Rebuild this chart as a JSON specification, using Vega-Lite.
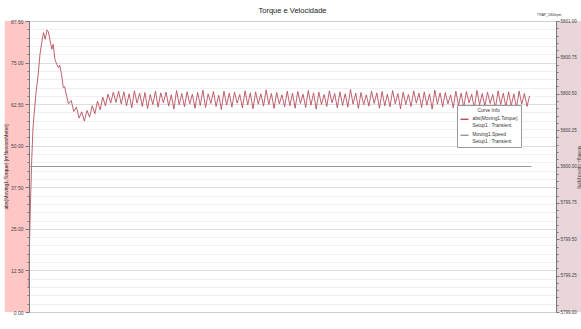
{
  "$schema": "https://vega.github.io/schema/vega-lite/v6.json",
  "width": 527,
  "height": 291,
  "autosize": {"type": "none"},
  "padding": {"left": 29, "top": 21, "right": 25, "bottom": 17},
  "background": "white",
  "title": {"text": "Torque e Velocidade", "fontSize": 7.5, "fontWeight": "normal", "font": "Liberation Sans", "color": "#222", "offset": -1, "anchor": "middle", "frame": "group"},
  "config": {"view": {"stroke": "#b0b0b0"}, "font": "Liberation Sans"},
  "datasets": {
    "torque": [
      {"t":0,"v":7.5},{"t":0.01,"v":20},{"t":0.03,"v":31},{"t":0.06,"v":45},{"t":0.09,"v":55},{"t":0.12,"v":60},{"t":0.16,"v":66},{"t":0.21,"v":71.5},{"t":0.25,"v":77.5},{"t":0.29,"v":81},{"t":0.33,"v":84},{"t":0.37,"v":82},{"t":0.41,"v":84.8},{"t":0.44,"v":84.3},{"t":0.48,"v":81.5},{"t":0.52,"v":79},{"t":0.55,"v":80.5},{"t":0.59,"v":76},{"t":0.63,"v":74.5},{"t":0.67,"v":73.5},{"t":0.7,"v":74.2},{"t":0.74,"v":71.5},{"t":0.78,"v":67.5},{"t":0.81,"v":67.8},{"t":0.86,"v":64.7},
      {"t":0.9,"v":62.6},{"t":0.96,"v":63.6},{"t":1.02,"v":60.3},{"t":1.08,"v":61.6},{"t":1.14,"v":58.3},{"t":1.2,"v":60.2},{"t":1.26,"v":57.4},{"t":1.32,"v":60.6},{"t":1.38,"v":58.6},{"t":1.44,"v":62.0},{"t":1.5,"v":59.6},{"t":1.56,"v":63.4},{"t":1.62,"v":60.8},{"t":1.68,"v":64.6},{"t":1.74,"v":62.0},{"t":1.8,"v":65.5},{"t":1.86,"v":62.8},{"t":1.92,"v":66.1},{"t":1.98,"v":63.0},{"t":2.04,"v":66.4},
      {"t":2.1,"v":62.6},{"t":2.16,"v":66.2},{"t":2.22,"v":62.0},{"t":2.28,"v":65.6},{"t":2.34,"v":61.4},{"t":2.4,"v":66.5},{"t":2.46,"v":62.8},{"t":2.52,"v":65.8},{"t":2.58,"v":61.8},{"t":2.64,"v":66.0},{"t":2.7,"v":61.2},{"t":2.76,"v":65.4},{"t":2.82,"v":62.4},{"t":2.88,"v":66.4},{"t":2.94,"v":61.6},{"t":3.0,"v":65.9},{"t":3.06,"v":62.9},{"t":3.12,"v":66.1},{"t":3.18,"v":61.9},{"t":3.24,"v":65.3},{"t":3.3,"v":61.0},{"t":3.36,"v":66.6},{"t":3.42,"v":62.3},{"t":3.48,"v":65.7},{"t":3.54,"v":61.7},{"t":3.6,"v":66.2},{"t":3.66,"v":62.6},{"t":3.72,"v":65.5},{"t":3.78,"v":61.3},{"t":3.84,"v":66.0},{"t":3.9,"v":62.1},{"t":3.96,"v":66.7},
      {"t":4.02,"v":61.5},{"t":4.08,"v":65.6},{"t":4.14,"v":62.7},{"t":4.2,"v":66.3},{"t":4.26,"v":61.8},{"t":4.32,"v":65.2},{"t":4.38,"v":60.9},{"t":4.44,"v":66.4},{"t":4.5,"v":62.2},{"t":4.56,"v":65.8},{"t":4.62,"v":61.6},{"t":4.68,"v":66.1},{"t":4.74,"v":62.8},{"t":4.8,"v":65.4},{"t":4.86,"v":61.4},{"t":4.92,"v":66.5},{"t":4.98,"v":62.3},{"t":5.04,"v":65.9},{"t":5.1,"v":61.1},{"t":5.16,"v":66.2},{"t":5.22,"v":62.5},{"t":5.28,"v":65.6},{"t":5.34,"v":61.9},{"t":5.4,"v":66.8},{"t":5.46,"v":62.4},{"t":5.52,"v":65.7},{"t":5.58,"v":61.2},{"t":5.64,"v":66.0},{"t":5.7,"v":62.6},{"t":5.76,"v":65.3},{"t":5.82,"v":61.7},{"t":5.88,"v":66.4},{"t":5.94,"v":62.0},{"t":6.0,"v":65.8},
      {"t":6.06,"v":61.3},{"t":6.12,"v":66.3},{"t":6.18,"v":62.7},{"t":6.24,"v":65.5},{"t":6.3,"v":61.5},{"t":6.36,"v":66.6},{"t":6.42,"v":62.2},{"t":6.48,"v":65.9},{"t":6.54,"v":61.0},{"t":6.6,"v":66.1},{"t":6.66,"v":62.4},{"t":6.72,"v":65.4},{"t":6.78,"v":61.8},{"t":6.84,"v":66.5},{"t":6.9,"v":62.9},{"t":6.96,"v":65.7},{"t":7.02,"v":61.4},{"t":7.08,"v":66.2},{"t":7.14,"v":62.1},{"t":7.2,"v":65.6},{"t":7.26,"v":61.6},{"t":7.32,"v":66.9},{"t":7.38,"v":62.5},{"t":7.44,"v":65.8},{"t":7.5,"v":61.2},{"t":7.56,"v":66.0},{"t":7.62,"v":62.3},{"t":7.68,"v":65.3},{"t":7.74,"v":61.9},{"t":7.8,"v":66.4},{"t":7.86,"v":62.7},{"t":7.92,"v":65.9},{"t":7.98,"v":61.3},
      {"t":8.04,"v":66.3},{"t":8.1,"v":62.0},{"t":8.16,"v":65.5},{"t":8.22,"v":61.7},{"t":8.28,"v":66.6},{"t":8.34,"v":62.6},{"t":8.4,"v":65.7},{"t":8.46,"v":61.1},{"t":8.52,"v":66.1},{"t":8.58,"v":62.4},{"t":8.64,"v":65.4},{"t":8.7,"v":61.8},{"t":8.76,"v":66.5},{"t":8.82,"v":62.8},{"t":8.88,"v":65.8},{"t":8.94,"v":61.5},{"t":9.0,"v":66.2},{"t":9.06,"v":62.2},{"t":9.12,"v":65.6},{"t":9.18,"v":61.0},{"t":9.24,"v":66.7},{"t":9.3,"v":62.5},{"t":9.36,"v":65.9},{"t":9.42,"v":61.7},{"t":9.48,"v":66.0},{"t":9.54,"v":62.6},{"t":9.6,"v":65.3},{"t":9.66,"v":61.4},{"t":9.72,"v":66.4},{"t":9.78,"v":62.1},{"t":9.84,"v":65.8},{"t":9.9,"v":61.6},{"t":9.96,"v":66.3},
      {"t":10.02,"v":62.9},{"t":10.08,"v":65.5},{"t":10.14,"v":61.3},{"t":10.2,"v":66.6},{"t":10.26,"v":62.3},{"t":10.32,"v":65.7},{"t":10.38,"v":61.9},{"t":10.44,"v":66.1},{"t":10.5,"v":62.7},{"t":10.56,"v":65.4},{"t":10.62,"v":61.2},{"t":10.68,"v":66.5},{"t":10.74,"v":62.4},{"t":10.8,"v":65.8},{"t":10.86,"v":61.6},{"t":10.92,"v":66.2},{"t":10.98,"v":62.0},{"t":11.04,"v":65.6},{"t":11.1,"v":61.4},{"t":11.16,"v":66.4},{"t":11.22,"v":62.5},{"t":11.28,"v":65.7},{"t":11.34,"v":61.8},{"t":11.4,"v":65.0}
    ],
    "speed": [{"t":0,"s":5800},{"t":11.44,"s":5800}],
    "one": [{}]
  },
  "layer": [
    {
      "data": {"name": "one"},
      "mark": {"type": "rect", "color": "#ffc6c6", "clip": false},
      "encoding": {
        "x": {"datum": -0.55, "type": "quantitative", "scale": {"domain": [0, 12], "nice": false}, "axis": null},
        "x2": {"datum": 0},
        "y": {"datum": 0, "type": "quantitative", "scale": {"domain": [0, 87.5], "nice": false, "zero": false},
          "axis": {"orient": "left", "offset": 0, "zindex": 0, "values": [0,2.5,5,7.5,10,12.5,15,17.5,20,22.5,25,27.5,30,32.5,35,37.5,40,42.5,45,47.5,50,52.5,55,57.5,60,62.5,65,67.5,70,72.5,75,77.5,80,82.5,85,87.5],
            "grid": true, "gridColor": {"condition": {"test": "datum.value % 12.5 === 0", "value": "#d6d6d6"}, "value": "#ececec"}, "gridWidth": 0.8,
            "labels": false, "ticks": false, "domain": false, "title": null}},
        "y2": {"datum": 87.5}
      }
    },
    {
      "data": {"name": "one"},
      "mark": {"type": "rect", "color": "#e8d6db", "clip": false},
      "encoding": {
        "x": {"datum": 12, "type": "quantitative", "scale": {"domain": [0, 12], "nice": false}, "axis": null},
        "x2": {"datum": 12.6},
        "y": {"datum": 0, "type": "quantitative", "scale": {"domain": [0, 87.5], "nice": false, "zero": false}, "axis": null},
        "y2": {"datum": 87.5}
      }
    },
    {
      "data": {"name": "torque"},
      "mark": {"type": "line", "strokeWidth": 0.9, "interpolate": "linear"},
      "encoding": {
        "x": {"field": "t", "type": "quantitative", "scale": {"domain": [0, 12], "nice": false, "zero": false},
          "axis": {"values": [0,0.4,0.8,1.2,1.6,2,2.4,2.8,3.2,3.6,4,4.4,4.8,5.2,5.6,6,6.4,6.8,7.2,7.6,8,8.4,8.8,9.2,9.6,10,10.4,10.8,11.2,11.6,12],
            "labelExpr": "abs(datum.value/2 - round(datum.value/2)) < 0.001 ? format(datum.value, '.2f') : ''",
            "labelOverlap": false, "labelFlush": false, "labelFontSize": 5, "labelColor": "#444", "labelPadding": 2,
            "tickSize": 3, "tickColor": "#777", "domainColor": "#777", "grid": true, "gridColor": "#e4e4e4", "gridWidth": 0.8,
            "title": "Time [ms]", "titleFontSize": 5, "titleFontWeight": "normal", "titleColor": "#333", "titlePadding": 1, "zindex": 0}},
        "y": {"field": "v", "type": "quantitative", "scale": {"domain": [0, 87.5], "nice": false, "zero": false},
          "axis": {"orient": "left", "offset": 0, "zindex": 1, "grid": false,
            "values": [0,2.5,5,7.5,10,12.5,15,17.5,20,22.5,25,27.5,30,32.5,35,37.5,40,42.5,45,47.5,50,52.5,55,57.5,60,62.5,65,67.5,70,72.5,75,77.5,80,82.5,85,87.5],
            "labelExpr": "datum.value % 12.5 === 0 ? format(datum.value, '.2f') : ''",
            "labelOverlap": false, "labelFontSize": 5, "labelColor": "#444", "labelPadding": 2,
            "tickSize": {"condition": {"test": "datum.value % 12.5 === 0", "value": 4}, "value": 2}, "tickColor": "#777", "domainColor": "#777",
            "title": "abs(Moving1.Torque) [mNewtonMeter]", "titleFontSize": 5, "titleFontWeight": "normal", "titleColor": "#333", "titlePadding": 2}},
        "color": {"datum": "abs(Moving1.Torque)", "type": "nominal",
          "scale": {"domain": ["abs(Moving1.Torque)", "Moving1.Speed"], "range": ["#b8505f", "#9a9a9a"]},
          "legend": {"title": "Curve Info", "orient": "none", "legendX": 428, "legendY": 84, "fillColor": "white", "strokeColor": "#9a9a9a", "padding": 2.5,
            "titleFontSize": 4.8, "titleFontWeight": "normal", "titleAnchor": "middle", "titleColor": "#333", "titlePadding": 2,
            "labelFontSize": 4.8, "labelColor": "#333", "labelExpr": "[datum.label, 'Setup1 : Transient']",
            "symbolType": "stroke", "symbolSize": 64, "symbolStrokeWidth": 1.5, "rowPadding": 2, "labelOffset": 3}}
      }
    },
    {
      "data": {"name": "speed"},
      "mark": {"type": "line", "strokeWidth": 1.1},
      "encoding": {
        "x": {"field": "t", "type": "quantitative", "scale": {"domain": [0, 12], "nice": false, "zero": false}},
        "y": {"field": "s", "type": "quantitative", "scale": {"domain": [5799, 5801], "nice": false, "zero": false},
          "axis": {"orient": "right", "offset": 0, "zindex": 1, "grid": false,
            "values": [5799,5799.05,5799.1,5799.15,5799.2,5799.25,5799.3,5799.35,5799.4,5799.45,5799.5,5799.55,5799.6,5799.65,5799.7,5799.75,5799.8,5799.85,5799.9,5799.95,5800,5800.05,5800.1,5800.15,5800.2,5800.25,5800.3,5800.35,5800.4,5800.45,5800.5,5800.55,5800.6,5800.65,5800.7,5800.75,5800.8,5800.85,5800.9,5800.95,5801],
            "labelExpr": "abs(datum.value*4 - round(datum.value*4)) < 0.01 ? format(datum.value, '.2f') : ''",
            "labelOverlap": false, "labelFontSize": 4.5, "labelColor": "#444", "labelPadding": 1,
            "tickSize": {"condition": {"test": "abs(datum.value*4 - round(datum.value*4)) < 0.01", "value": 3}, "value": 2}, "tickColor": "#777", "domainColor": "#777",
            "title": "Moving1.Speed [rpm]", "titleFontSize": 4.5, "titleFontWeight": "normal", "titleColor": "#333", "titlePadding": 0.5}},
        "color": {"datum": "Moving1.Speed", "type": "nominal"}
      }
    },
    {
      "data": {"name": "one"},
      "mark": {"type": "text", "text": "TRAP_5800rpm", "fontSize": 3.4, "align": "left", "baseline": "middle", "color": "#333", "clip": false},
      "encoding": {
        "x": {"datum": 11.57, "type": "quantitative", "scale": {"domain": [0, 12], "nice": false}, "axis": null},
        "y": {"datum": 89.3, "type": "quantitative", "scale": {"domain": [0, 87.5], "nice": false, "zero": false}, "axis": null}
      }
    }
  ],
  "resolve": {"scale": {"y": "independent"}}
}
